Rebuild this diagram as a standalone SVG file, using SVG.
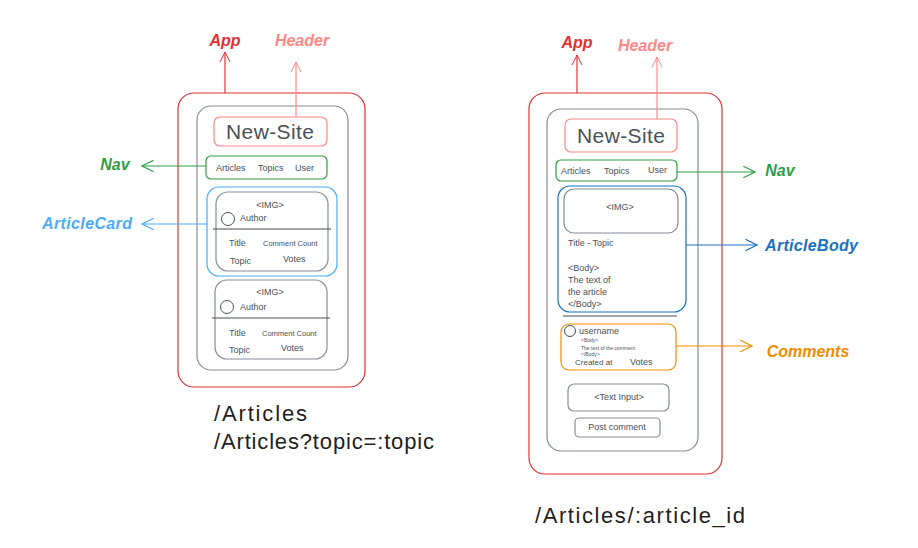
<svg xmlns="http://www.w3.org/2000/svg" width="918" height="548" viewBox="0 0 918 548">
<defs>
<marker id="mRed" viewBox="0 0 12 12" refX="11" refY="6" markerWidth="12" markerHeight="12" markerUnits="userSpaceOnUse" orient="auto"><path d="M1,1 L11,6 L1,11" fill="none" stroke="#e03131" stroke-width="1"/></marker>
<marker id="mPink" viewBox="0 0 12 12" refX="11" refY="6" markerWidth="12" markerHeight="12" markerUnits="userSpaceOnUse" orient="auto"><path d="M1,1 L11,6 L1,11" fill="none" stroke="#ff8787" stroke-width="1"/></marker>
<marker id="mGreen" viewBox="0 0 12 12" refX="11" refY="6" markerWidth="14" markerHeight="14" markerUnits="userSpaceOnUse" orient="auto"><path d="M1,1 L11,6 L1,11" fill="none" stroke="#2f9e44" stroke-width="1"/></marker>
<marker id="mLBlue" viewBox="0 0 12 12" refX="11" refY="6" markerWidth="14" markerHeight="14" markerUnits="userSpaceOnUse" orient="auto"><path d="M1,1 L11,6 L1,11" fill="none" stroke="#4dabf7" stroke-width="1"/></marker>
<marker id="mBlue" viewBox="0 0 12 12" refX="11" refY="6" markerWidth="14" markerHeight="14" markerUnits="userSpaceOnUse" orient="auto"><path d="M1,1 L11,6 L1,11" fill="none" stroke="#1971c2" stroke-width="1"/></marker>
<marker id="mOrange" viewBox="0 0 12 12" refX="11" refY="6" markerWidth="14" markerHeight="14" markerUnits="userSpaceOnUse" orient="auto"><path d="M1,1 L11,6 L1,11" fill="none" stroke="#f08c00" stroke-width="1"/></marker>
</defs>
<style>
text{font-family:"Liberation Sans","DejaVu Sans",sans-serif;}
.box{fill:none;stroke-width:1.2;}
.app{stroke:#e03131;}
.hdr{stroke:#ff8787;}
.gray{stroke:#868e96;}
.nav{stroke:#2f9e44;}
.card{stroke:#4dabf7;}
.body{stroke:#1971c2;}
.com{stroke:#f08c00;}
.t{fill:#495057;font-size:9px;}
.ts{fill:#495057;font-size:5px;}
.title{fill:#495057;font-size:21px;text-anchor:middle;}
.lbl{font-size:16px;font-style:italic;font-weight:bold;}
.route{fill:#1e1e1e;font-size:22px;}
.conn line{stroke-width:1.2;}
</style>
<rect width="918" height="548" fill="#ffffff"/>

<!-- LEFT PAGE -->
<g id="app-left"><rect class="box app" x="178" y="93" width="187" height="294" rx="16"/></g>
<g id="page-left"><rect class="box gray" x="197" y="106" width="151" height="264" rx="14"/></g>
<g id="header-left"><rect class="box hdr" x="214" y="117" width="113" height="29" rx="6"/><text class="title" x="270" y="139" textLength="88">New-Site</text></g>
<g id="nav-left"><rect class="box nav" x="206" y="156" width="121" height="23" rx="5"/>
<text class="t" x="216" y="171">Articles</text><text class="t" x="258" y="171">Topics</text><text class="t" x="295" y="171">User</text></g>
<g id="articlecard-left"><rect class="box card" x="207" y="187" width="130" height="89" rx="12"/></g>
<g id="card1"><rect class="box gray" x="216" y="192" width="112" height="79" rx="12"/>
<line x1="213" y1="229" x2="331" y2="229" stroke="#495057" stroke-width="1"/>
<circle cx="228" cy="219" r="6.5" fill="none" stroke="#495057"/>
<text class="t" x="270" y="208" text-anchor="middle">&lt;IMG&gt;</text>
<text class="t" x="240" y="221">Author</text>
<text class="t" x="229" y="246">Title</text>
<text class="t" x="263" y="246" style="font-size:7.5px">Comment Count</text>
<text class="t" x="230" y="264">Topic</text>
<text class="t" x="283" y="262">Votes</text></g>
<g id="card2"><rect class="box gray" x="215" y="280" width="112" height="79" rx="12"/>
<line x1="212" y1="318" x2="330" y2="318" stroke="#495057" stroke-width="1"/>
<circle cx="227" cy="307" r="6.5" fill="none" stroke="#495057"/>
<text class="t" x="270" y="295" text-anchor="middle">&lt;IMG&gt;</text>
<text class="t" x="240" y="310">Author</text>
<text class="t" x="229" y="336">Title</text>
<text class="t" x="262" y="336" style="font-size:7.5px">Comment Count</text>
<text class="t" x="229" y="353">Topic</text>
<text class="t" x="281" y="351">Votes</text></g>

<g id="labels-left">
<text class="lbl" x="225" y="46" fill="#e03131" text-anchor="middle">App</text>
<text class="lbl" x="302" y="46" fill="#ff8787" text-anchor="middle">Header</text>
<text class="lbl" x="115" y="170" fill="#2f9e44" text-anchor="middle">Nav</text>
<text class="lbl" x="42" y="229" fill="#4dabf7" textLength="90">ArticleCard</text>
<text class="route" x="214" y="421" textLength="93">/Articles</text>
<text class="route" x="214" y="449" textLength="220">/Articles?topic=:topic</text>
</g>

<!-- RIGHT PAGE -->
<g id="app-right"><rect class="box app" x="529" y="93" width="193" height="381" rx="16"/></g>
<g id="page-right"><rect class="box gray" x="547" y="109" width="151" height="342" rx="14"/></g>
<g id="header-right"><rect class="box hdr" x="565" y="119" width="112" height="33" rx="6"/><text class="title" x="621" y="143" textLength="88">New-Site</text></g>
<g id="nav-right"><rect class="box nav" x="556" y="160" width="121" height="21" rx="5"/>
<text class="t" x="561" y="174">Articles</text><text class="t" x="604" y="174">Topics</text><text class="t" x="648" y="173">User</text></g>
<g id="articlebody"><rect class="box body" x="558" y="186" width="128" height="126" rx="12"/>
<rect class="box gray" x="564" y="189" width="114" height="44" rx="10"/>
<text class="t" x="620" y="210" text-anchor="middle">&lt;IMG&gt;</text>
<text class="t" x="568" y="246">Title - Topic</text>
<text class="t" x="568" y="271">&lt;Body&gt;</text>
<text class="t" x="568" y="283">The text of</text>
<text class="t" x="568" y="295">the article</text>
<text class="t" x="568" y="307">&lt;/Body&gt;</text></g>
<g id="divider-right"><line x1="563" y1="316" x2="677" y2="316" stroke="#495057" stroke-width="1"/></g>
<g id="comments"><rect class="box com" x="561" y="324" width="115" height="46" rx="8"/>
<circle cx="570" cy="331" r="5.5" fill="none" stroke="#495057"/>
<text class="t" x="579" y="334">username</text>
<text class="ts" x="581" y="342">&lt;Body&gt;</text>
<text class="ts" x="581" y="350">The text of the comment</text>
<text class="ts" x="581" y="356">&lt;/Body&gt;</text>
<text class="t" x="575" y="365" style="font-size:8px">Created at</text>
<text class="t" x="630" y="365">Votes</text></g>
<g id="text-input"><rect class="box gray" x="568" y="384" width="101" height="27" rx="6"/><text class="t" x="619" y="400" text-anchor="middle">&lt;Text Input&gt;</text></g>
<g id="post-comment"><rect class="box gray" x="575" y="418" width="85" height="19" rx="4"/><text class="t" x="617" y="430" text-anchor="middle">Post comment</text></g>

<g id="labels-right">
<text class="lbl" x="577" y="48" fill="#e03131" text-anchor="middle">App</text>
<text class="lbl" x="645" y="51" fill="#ff8787" text-anchor="middle">Header</text>
<text class="lbl" x="780" y="176" fill="#2f9e44" text-anchor="middle">Nav</text>
<text class="lbl" x="765" y="251" fill="#1971c2" textLength="93">ArticleBody</text>
<text class="lbl" x="808" y="357" fill="#f08c00" text-anchor="middle">Comments</text>
<text class="route" x="535" y="523" textLength="210">/Articles/:article_id</text>
</g>

<g id="connectors" class="conn">
<line x1="225" y1="93" x2="225" y2="52" stroke="#e03131" marker-end="url(#mRed)"/>
<line x1="296" y1="117" x2="296" y2="62" stroke="#ff8787" marker-end="url(#mPink)"/>
<line x1="206" y1="166" x2="142" y2="166" stroke="#2f9e44" marker-end="url(#mGreen)"/>
<line x1="207" y1="224" x2="142" y2="224" stroke="#4dabf7" marker-end="url(#mLBlue)"/>
<line x1="577" y1="93" x2="577" y2="55" stroke="#e03131" marker-end="url(#mRed)"/>
<line x1="657" y1="119" x2="657" y2="57" stroke="#ff8787" marker-end="url(#mPink)"/>
<line x1="677" y1="172" x2="755" y2="172" stroke="#2f9e44" marker-end="url(#mGreen)"/>
<line x1="686" y1="245" x2="757" y2="245" stroke="#1971c2" marker-end="url(#mBlue)"/>
<line x1="676" y1="346" x2="752" y2="346" stroke="#f08c00" marker-end="url(#mOrange)"/>
</g>
</svg>
